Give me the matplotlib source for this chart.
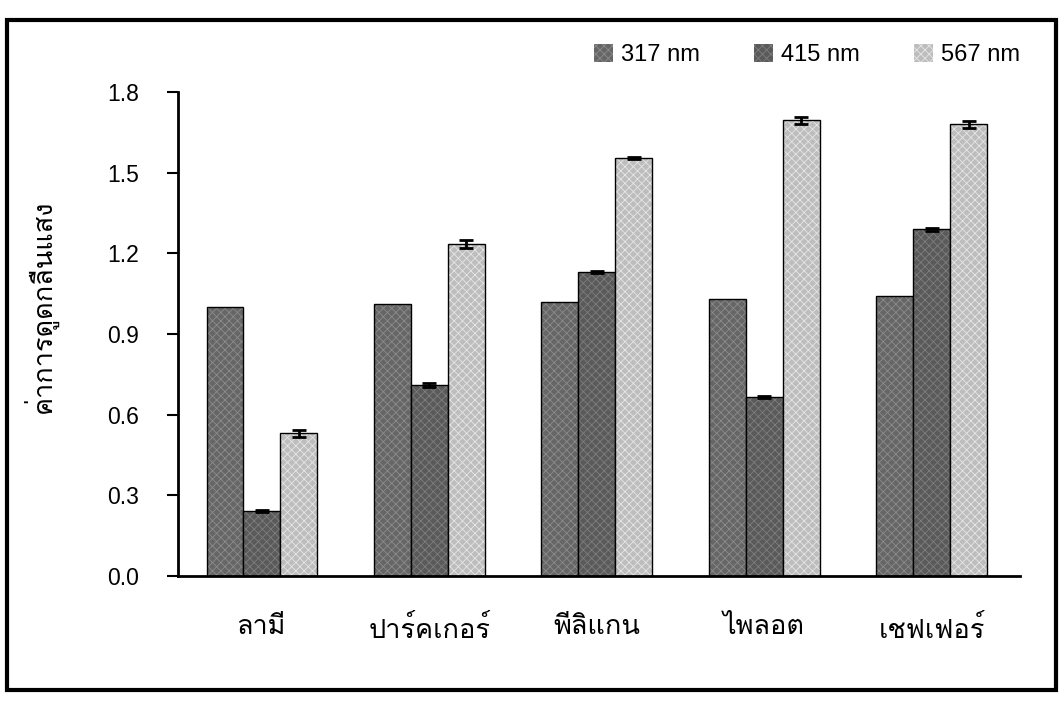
import numpy as np
import matplotlib
matplotlib.use("Agg")
import matplotlib.pyplot as plt
from matplotlib.patches import Rectangle

# brands of pen ink (Thai names) and absorbance at three wavelengths
brands = ["ลามี", "ปาร์คเกอร์", "พีลิแกน", "ไพลอต", "เชฟเฟอร์"]
series_names = ["317 nm", "415 nm", "567 nm"]
abs_317 = [1.00, 1.01, 1.02, 1.03, 1.04]
abs_415 = [0.24, 0.71, 1.13, 0.665, 1.29]
abs_567 = [0.53, 1.235, 1.555, 1.695, 1.68]
err_317 = [0.0, 0.0, 0.0, 0.0, 0.0]
err_415 = [0.004, 0.006, 0.004, 0.004, 0.005]
err_567 = [0.014, 0.015, 0.005, 0.012, 0.012]

colors = ["#666666", "#5a5a5a", "#bdbdbd"]
speckle = ["#8c8c8c", "#7e7e7e", "#e6e6e6"]
thai = ["Loma", "DejaVu Sans"]
latin = ["Liberation Sans", "DejaVu Sans"]
plt.rcParams["hatch.linewidth"] = 0.6

fig = plt.figure(figsize=(10.63, 7.04), dpi=100)
ax = fig.add_axes([0.1675, 0.182, 0.7925, 0.687])

x = np.arange(len(brands))
w = 0.22
vals = [abs_317, abs_415, abs_567]
errs = [err_317, err_415, err_567]
for i in range(3):
    pos = x + (i - 1) * w
    # mottled texture of the printed bars
    ax.bar(pos, vals[i], w, facecolor=colors[i], hatch="xxxx", edgecolor=speckle[i],
           linewidth=0, label=series_names[i], zorder=2)
    ax.bar(pos, vals[i], w, fill=False, edgecolor="black", linewidth=1.0, zorder=2)
    if max(errs[i]) > 0:
        ax.errorbar(pos, vals[i], yerr=errs[i], fmt="none",
                    ecolor="black", elinewidth=2, capsize=5, capthick=2, zorder=3)

ax.set_xlim(-0.5, 4.53)
ax.set_ylim(0, 1.8)
ax.set_yticks([0.0, 0.3, 0.6, 0.9, 1.2, 1.5, 1.8])
ax.set_yticklabels(["0.0", "0.3", "0.6", "0.9", "1.2", "1.5", "1.8"],
                   family=latin, fontsize=16.5)
ax.set_xticks(x)
ax.set_xticklabels(brands, family=thai, fontsize=19.5)
ax.tick_params(axis="x", length=0, pad=28)
ax.tick_params(axis="y", direction="out", length=8, width=1.5, pad=20)
for s in ["top", "right"]:
    ax.spines[s].set_visible(False)
ax.spines["left"].set_linewidth(2)
ax.spines["bottom"].set_linewidth(2)

fig.text(0.038, 0.565, "ค่าการดูดกลืนแสง", rotation=90, ha="center", va="center",
         family=thai, fontsize=19.5)

fig.legend(loc="center right", bbox_to_anchor=(0.98, 0.922), ncol=3, frameon=False,
           prop={"family": latin, "size": 17}, handlelength=0.8, handleheight=0.8,
           handletextpad=0.35, columnspacing=2.3)

# border around the whole picture
fig.patches.append(Rectangle((0.0066, 0.02), 0.9868, 0.9516, transform=fig.transFigure,
                             fill=False, edgecolor="black", linewidth=3))

fig.savefig("out.png")
